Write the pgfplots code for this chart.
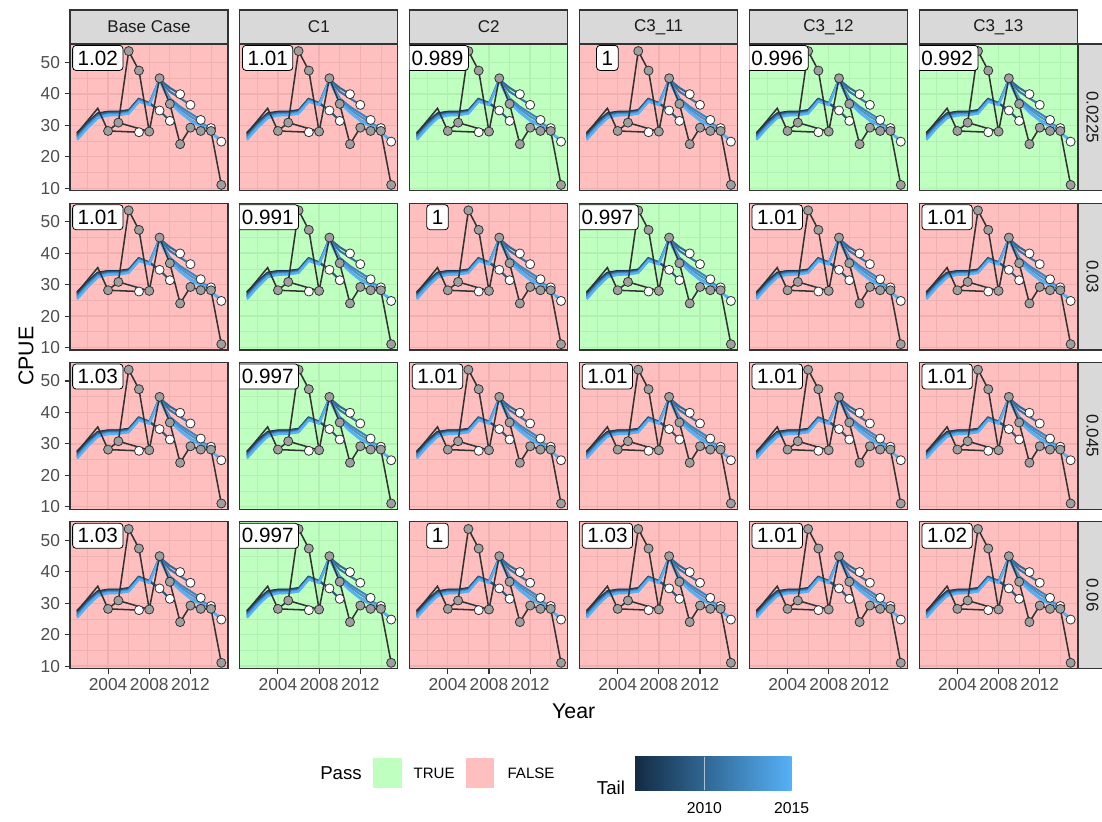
\documentclass[border=0pt]{standalone}
\usepackage{pgfplots}
\usepackage{pgfplotstable}
\pgfplotsset{compat=1.18}
\usepackage{fontspec}
\setmainfont{Liberation Sans}
\definecolor{bgF}{RGB}{255,191,191}
\definecolor{grF}{RGB}{240,176,176}
\definecolor{bgT}{RGB}{191,255,191}
\definecolor{grT}{RGB}{176,240,176}
\definecolor{stripbg}{RGB}{217,217,217}
\definecolor{g10}{RGB}{26,26,26}
\definecolor{g20}{RGB}{51,51,51}
\definecolor{g30}{RGB}{77,77,77}
\definecolor{obsfill}{RGB}{158,158,158}
\definecolor{t06}{RGB}{19,43,67}
\definecolor{t07}{RGB}{26,58,87}
\definecolor{t08}{RGB}{34,73,107}
\definecolor{t09}{RGB}{41,88,127}
\definecolor{t10}{RGB}{49,103,147}
\definecolor{t11}{RGB}{56,117,167}
\definecolor{t12}{RGB}{64,132,187}
\definecolor{t13}{RGB}{71,147,207}
\definecolor{t14}{RGB}{79,162,227}
\definecolor{t15}{RGB}{86,177,247}

\pgfplotstableread{
year p06 p07 p08 p09 p10 p11 p12 p13 p14 p15
2001 27.6 27.35 27.1 26.85 26.6 26.35 26.1 25.85 25.6 25.35
2002 30.9 30.7 30.5 30.3 30.1 29.9 29.7 29.5 29.3 29.1
2003 33.8 33.6 33.5 33.3 33.1 33.0 32.8 32.6 32.4 32.3
2004 34.3 34.2 34.0 33.9 33.8 33.6 33.5 33.4 33.3 33.1
2005 34.3 34.2 34.1 33.9 33.8 33.7 33.6 33.5 33.3 33.2
2006 34.8 34.7 34.6 34.4 34.3 34.2 34.1 34.0 33.8 33.7
2007 nan 38.5 38.4 38.2 38.1 38.0 37.9 37.8 37.6 37.5
2008 nan nan 37.1 37.0 36.9 36.8 36.7 36.6 36.5 36.4
2009 nan nan 34.7 34.7 44.6 44.5 44.4 44.3 44.2 44.1
2010 nan nan nan 31.4 41.9 40.7 38.6 38.0 37.5 37.3
2011 nan nan nan nan 39.9 38.6 35.9 35.2 34.3 34.0
2012 nan nan nan nan nan 36.5 33.8 32.8 31.7 31.4
2013 nan nan nan nan nan nan 31.7 30.8 30.1 29.6
2014 nan nan nan nan nan nan nan 29.1 27.8 27.6
2015 nan nan nan nan nan nan nan nan 24.8 25.5
}\peels

\pgfplotstableread{
year cpue
2001 27.5
2002 31.45
2003 35.4
2004 28.2
2005 30.85
2006 53.6
2007 47.4
2008 28.0
2009 44.95
2010 36.8
2011 24.0
2012 29.25
2013 28.2
2014 28.2
2015 11.05
}\obsline

\pgfplotstableread{
year cpue
2004 28.2
2005 30.85
2006 53.6
2007 47.4
2008 28.0
2009 44.95
2010 36.8
2011 24.0
2012 29.25
2013 28.2
2014 28.2
2015 11.05
}\obspts

\pgfplotstableread{
year cpue
2007 27.8
2009 34.7
2010 31.4
2011 39.9
2012 36.5
2013 31.7
2014 29.1
2015 24.8
}\whites

\pgfplotsset{
  panel/.style={
    anchor=north west, scale only axis, width=118.5pt, height=110.03pt,
    xmin=2000.3, xmax=2015.65, ymin=9.2, ymax=55.85,
    xtick={2004,2008,2012}, minor xtick={2002,2006,2010,2014},
    ytick={10,20,30,40,50}, minor ytick={15,25,35,45},
    xmajorgrids, ymajorgrids, xminorgrids, yminorgrids,
    axis line style={draw=g20, line width=0.8pt},
    xticklabels={}, yticklabels={},
    major tick length=4pt, minor tick length=0pt,
    tick align=outside, tick pos=left,
    xtick style={draw=none}, ytick style={draw=none},
    ticklabel style={font=\fontsize{13}{15}\selectfont, text=g30},
    unbounded coords=jump,
  },
  yleft/.style={yticklabels={10,20,30,40,50}, ytick style={draw=g20, line width=0.8pt}},
  xbot/.style={xticklabels={2004,2008,2012}, xtick style={draw=g20, line width=0.8pt}},
  peel/.style={no marks, line width=1.55pt, #1},
  dk/.style={no marks, line width=1.15pt, g20},
}

\newcommand{\plotall}{%
  \addplot[peel=t06] table[x=year,y=p06]{\peels};
  \addplot[peel=t07] table[x=year,y=p07]{\peels};
  \addplot[peel=t08] table[x=year,y=p08]{\peels};
  \addplot[peel=t09] table[x=year,y=p09]{\peels};
  \addplot[peel=t10] table[x=year,y=p10]{\peels};
  \addplot[peel=t11] table[x=year,y=p11]{\peels};
  \addplot[peel=t12] table[x=year,y=p12]{\peels};
  \addplot[peel=t13] table[x=year,y=p13]{\peels};
  \addplot[peel=t14] table[x=year,y=p14]{\peels};
  \addplot[peel=t15] table[x=year,y=p15]{\peels};
  \addplot[dk] table[x=year,y=cpue]{\obsline};
  \addplot[dk] coordinates {(2004,28.2) (2007,27.8)};
  \addplot[dk] coordinates {(2005,30.85) (2008,28.0)};
  \addplot[only marks, mark=*, mark size=3.4pt, mark options={fill=white, draw=g20, line width=0.6pt}] table[x=year,y=cpue]{\whites};
  \addplot[only marks, mark=*, mark size=3.4pt, mark options={fill=obsfill, draw=g20, line width=0.6pt}] table[x=year,y=cpue]{\obspts};
}

\tikzset{lab/.style={draw=black, fill=white, rounded corners=2.5pt, line width=0.6pt,
  font=\fontsize{15.5}{18}\selectfont, anchor=north, minimum height=18.75pt,
  inner xsep=3.8pt, inner ysep=0pt}}

\newcommand{\panel}[5]{%
  \pgfmathsetmacro\PX{(70+169.86*#1)*0.75}%
  \pgfmathsetmacro\PY{-(44+159.3*#2)*0.75}%
  \begin{axis}[panel, at={(\PX pt,\PY pt)},
     axis background/.style={fill=bg#3},
     major grid style={gr#3, line width=1.0pt},
     minor grid style={gr#3, line width=0.55pt}, #5]
    \plotall
  \end{axis}
  \begin{scope}
    \clip (\PX pt,\PY pt) rectangle ++(118.5pt,-110.03pt);
    \node[lab] at (\PX pt+20.85pt,\PY pt-0.75pt) {#4};
  \end{scope}
}

\begin{document}
\begin{tikzpicture}
\useasboundingbox (0,0) rectangle (826.5pt,-615.75pt);
% row 0.0225
\panel{0}{0}{F}{1.02}{yleft}
\panel{1}{0}{F}{1.01}{}
\panel{2}{0}{T}{0.989}{}
\panel{3}{0}{F}{1}{}
\panel{4}{0}{T}{0.996}{}
\panel{5}{0}{T}{0.992}{}
% row 0.03
\panel{0}{1}{F}{1.01}{yleft}
\panel{1}{1}{T}{0.991}{}
\panel{2}{1}{F}{1}{}
\panel{3}{1}{T}{0.997}{}
\panel{4}{1}{F}{1.01}{}
\panel{5}{1}{F}{1.01}{}
% row 0.045
\panel{0}{2}{F}{1.03}{yleft}
\panel{1}{2}{T}{0.997}{}
\panel{2}{2}{F}{1.01}{}
\panel{3}{2}{F}{1.01}{}
\panel{4}{2}{F}{1.01}{}
\panel{5}{2}{F}{1.01}{}
% row 0.06
\panel{0}{3}{F}{1.03}{yleft,xbot}
\panel{1}{3}{T}{0.997}{xbot}
\panel{2}{3}{F}{1}{xbot}
\panel{3}{3}{F}{1.03}{xbot}
\panel{4}{3}{F}{1.01}{xbot}
\panel{5}{3}{F}{1.02}{xbot}

\begin{scope}[x=0.75pt,y=-0.75pt]
  % top strips
  \foreach \c/\nm in {0/Base Case,1/C1,2/C2,3/C3\_11,4/C3\_12,5/C3\_13}{
    \draw[g20, fill=stripbg, line width=0.8pt] ({70+169.86*\c},10) rectangle ++(158,33.6);
    \node[font=\fontsize{12.75}{15}\selectfont, text=g10] at ({70+169.86*\c+79},26.8) {\nm};
  }
  % right strips
  \foreach \r/\nm in {0/0.0225,1/0.03,2/0.045,3/0.06}{
    \draw[g20, fill=stripbg, line width=0.8pt] (1078.6,{44+159.3*\r}) rectangle ++(33,146.7);
    \node[font=\fontsize{12.75}{15}\selectfont, text=g10, rotate=-90] at (1092.5,{44+159.3*\r+73.35}) {\nm};
  }
  % axis titles
  \node[font=\fontsize{16}{19}\selectfont, rotate=90] at (26,356) {CPUE};
  \node[font=\fontsize{16}{19}\selectfont] at (573.7,711) {Year};
  % legend Pass
  \node[font=\fontsize{14}{17}\selectfont, anchor=west, inner sep=0pt] at (320,773.3) {Pass};
  \fill[bgT] (373.3,758.3) rectangle (401.7,788.3);
  \node[font=\fontsize{11.3}{14}\selectfont, anchor=west, inner sep=0pt] at (413.3,773.3) {TRUE};
  \fill[bgF] (465.7,758.3) rectangle (494.3,788.3);
  \node[font=\fontsize{11.3}{14}\selectfont, anchor=west, inner sep=0pt] at (507.3,773.3) {FALSE};
  % legend Tail
  \node[font=\fontsize{14}{17}\selectfont, anchor=west, inner sep=0pt] at (596.7,788.3) {Tail};
  \shade[left color=t06, right color=t15] (635,756.7) rectangle (791.7,790);
  \draw[white, opacity=0.6, line width=0.5pt] (704.3,756.7) -- (704.3,790);
  \node[font=\fontsize{11.8}{14}\selectfont] at (704.3,808.3) {2010};
  \node[font=\fontsize{11.8}{14}\selectfont] at (791.7,808.3) {2015};
\end{scope}
\end{tikzpicture}
\end{document}
